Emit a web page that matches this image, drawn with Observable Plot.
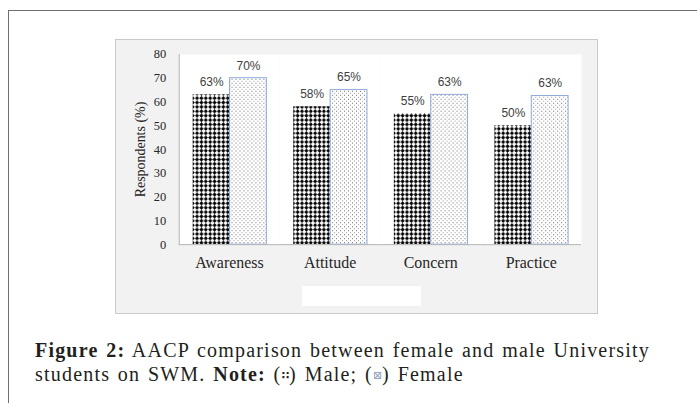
<!DOCTYPE html>
<html>
<head>
<meta charset="utf-8">
<script src="https://cdn.jsdelivr.net/npm/d3@7"></script>
<script src="https://cdn.jsdelivr.net/npm/@observablehq/plot@0.6"></script>
<style>
  html, body { margin: 0; padding: 0; background: #ffffff; }
  #page { position: relative; width: 697px; height: 403px; overflow: hidden; background: #fff; }
  #frame { position: absolute; left: 8px; top: 10px; width: 720px; height: 420px;
           border-left: 1px solid #6e6e6e; border-top: 1px solid #6e6e6e; }
  #box { position: absolute; left: 115px; top: 39px; width: 483px; height: 275px;
         background: #f2f2f2; box-sizing: border-box; border: 1px solid #c9c9c9; }
  #box svg { position: absolute; left: -1px; top: -1px; }
  #legendbox { position: absolute; left: 186px; top: 246px; width: 119px; height: 20px; background: #fff; }
  #caption { position: absolute; left: 35px; top: 339px; width: 660px;
             font-family: "Liberation Serif", serif; font-size: 20px; line-height: 23.5px;
             color: #231f20; letter-spacing: 1.2px; word-spacing: 1.5px; white-space: nowrap; }
  #caption b { font-weight: bold; }
  .sym { font-family: "DejaVu Sans", sans-serif; font-size: 11px; vertical-align: 2px; letter-spacing: 0; }
</style>
</head>
<body>
<div id="page">
  <div id="frame"></div>
  <div id="box"><div id="legendbox"></div></div>
  <div id="caption"><b>Figure 2:</b> AACP comparison between female and male University<br>students on SWM. <b>Note:</b> (<span class="sym" style="font-weight:bold">∷</span>) Male; (<span class="sym" style="color:#8a9bb5">⊠</span>) Female</div>
</div>
<script>
const categories = ["Awareness", "Attitude", "Concern", "Practice"];
const series = ["Male", "Female"];
const maleValues = [63, 58, 55, 50];
const femaleValues = [70, 65, 63, 62.5];
const yTicks = [0, 10, 20, 30, 40, 50, 60, 70, 80];
const yLabel = "Respondents (%)";

const data = categories.flatMap((c, i) => [
  {category: c, sex: "Male", value: maleValues[i]},
  {category: c, sex: "Female", value: femaleValues[i]}
]);

const serif = "'Liberation Serif', serif";
const sans = "'Liberation Sans', sans-serif";

const chart = Plot.plot({
  width: 483,
  height: 275,
  marginLeft: 63,
  marginRight: 15,
  marginTop: 15,
  marginBottom: 69,
  style: {background: "transparent", color: "#262626", fontFamily: serif},
  fx: {domain: categories, padding: 0, label: null},
  x: {domain: series, paddingInner: 0, paddingOuter: 0.35, axis: null},
  y: {domain: [0, 80]},
  marks: [
    Plot.frame({fill: "white", stroke: null}),
    Plot.barY(data.filter(d => d.sex === "Male"), {fx: "category", x: "sex", y: "value", fill: "url(#malePat)"}),
    Plot.barY(data.filter(d => d.sex === "Female"), {fx: "category", x: "sex", y: "value", fill: "url(#femalePat)", stroke: "#8eaadb", strokeWidth: 1}),
    Plot.ruleY([0], {stroke: "#b4b4b4"}),
    Plot.frame({anchor: "left", stroke: "#b4b4b4", facetAnchor: "left"}),
    Plot.axisY({ticks: yTicks, tickSize: 0, tickPadding: 13, label: yLabel, labelAnchor: "center",
                labelArrow: "none", labelOffset: 44, fontSize: 12.5, fontFamily: serif, fill: "#262626"}),
    Plot.axisFx({anchor: "bottom", tickSize: 0, tickPadding: 12, label: null, fontSize: 16, fontFamily: serif, fill: "#262626"}),
    Plot.text(data, {fx: "category", x: "sex", y: "value", text: d => Math.round(d.value) + "%",
                     dy: -12.5, fontSize: 12, fontFamily: sans, fill: "#404040"})
  ]
});

d3.select(chart).selectAll('[aria-label="y-axis label"]').attr("font-size", 14).selectAll("text").attr("font-size", 14);

d3.select(chart).insert("defs", ":first-child").html(`
  <pattern id="malePat" patternUnits="userSpaceOnUse" width="4.4" height="4.4">
    <rect width="4.4" height="4.4" fill="#ffffff"/>
    <path d="M2.2,0.1 L4.3,2.2 L2.2,4.3 L0.1,2.2 Z" fill="#000000"/>
  </pattern>
  <pattern id="femalePat" patternUnits="userSpaceOnUse" width="4" height="4">
    <rect width="4" height="4" fill="#ffffff"/>
    <rect x="0" y="0" width="1" height="1" fill="#6e6e6e"/>
    <rect x="2" y="2" width="1" height="1" fill="#9a9a9a"/>
  </pattern>`);

document.getElementById("box").appendChild(chart);
</script>
</body>
</html>
